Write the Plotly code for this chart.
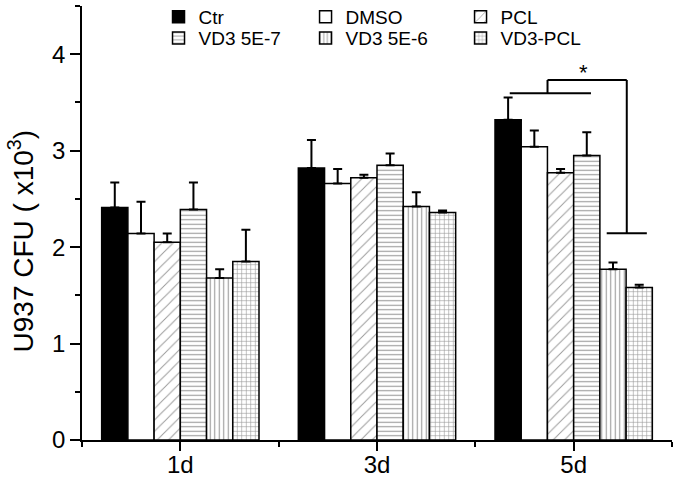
import plotly.graph_objects as go

# ---- data ----
days = ["1d", "3d", "5d"]
day_pos = [0, 1, 2]
series_names = ["Ctr", "DMSO", "PCL", "VD3 5E-7", "VD3 5E-6", "VD3-PCL"]

ctr = [2.41, 2.82, 3.32]
ctr_err = [0.26, 0.29, 0.23]
dmso = [2.14, 2.66, 3.04]
dmso_err = [0.33, 0.15, 0.17]
pcl = [2.05, 2.72, 2.77]
pcl_err = [0.09, 0.03, 0.04]
vd3_5e7 = [2.39, 2.85, 2.95]
vd3_5e7_err = [0.28, 0.12, 0.24]
vd3_5e6 = [1.68, 2.42, 1.77]
vd3_5e6_err = [0.09, 0.15, 0.07]
vd3_pcl = [1.85, 2.36, 1.58]
vd3_pcl_err = [0.33, 0.02, 0.03]

values = [ctr, dmso, pcl, vd3_5e7, vd3_5e6, vd3_pcl]
errors = [ctr_err, dmso_err, pcl_err, vd3_5e7_err, vd3_5e6_err, vd3_pcl_err]

# significance bracket (data coordinates)
sig_low_x = [1.675, 2.088]
sig_low_y = 3.595
sig_mid_x = 1.867
sig_top_y = 3.733
sig_right_x = 2.27
sig_bottom_y = 2.144
sig_bottom_x = [2.168, 2.372]
star_x, star_y = 2.05, 3.81

FONT = "Arial, Liberation Sans, sans-serif"

styles = [
    dict(color="black", pattern=None),
    dict(color="white", pattern=None),
    dict(color="white", pattern=dict(shape="/", fgcolor="#333", bgcolor="white", size=8, solidity=0.12)),
    dict(color="white", pattern=dict(shape="-", fgcolor="#333", bgcolor="white", size=4.5, solidity=0.25)),
    dict(color="white", pattern=dict(shape="|", fgcolor="#333", bgcolor="white", size=4.5, solidity=0.25)),
    dict(color="white", pattern=dict(shape="+", fgcolor="#333", bgcolor="white", size=4.5, solidity=0.25)),
]

# legend placement (paper coords): 2 rows x 3 columns
leg_cols = [0.1297, 0.3789, 0.6416]
leg_rows = [0.9746, 0.926]
legend_ids = ["legend", "legend2", "legend3", "legend4", "legend5", "legend6"]

fig = go.Figure()
for i, (name, vals, errs, st) in enumerate(zip(series_names, values, errors, styles)):
    marker = dict(color=st["color"], line=dict(color="black", width=1.5))
    if st["pattern"] is not None:
        marker["pattern"] = st["pattern"]
    fig.add_trace(go.Bar(
        x=day_pos, y=vals, name=name, marker=marker, legend=legend_ids[i],
        showlegend=True,
        error_y=dict(type="data", symmetric=False, array=errs,
                     arrayminus=[0] * len(errs), color="black",
                     thickness=2, width=4.5),
    ))

line = dict(color="black", width=2)
shapes = [
    dict(type="line", xref="x", yref="y", x0=sig_low_x[0], x1=sig_low_x[1], y0=sig_low_y, y1=sig_low_y, line=line),
    dict(type="line", xref="x", yref="y", x0=sig_mid_x, x1=sig_mid_x, y0=sig_low_y, y1=sig_top_y, line=line),
    dict(type="line", xref="x", yref="y", x0=sig_mid_x, x1=sig_right_x, y0=sig_top_y, y1=sig_top_y, line=line),
    dict(type="line", xref="x", yref="y", x0=sig_right_x, x1=sig_right_x, y0=sig_top_y, y1=sig_bottom_y, line=line),
    dict(type="line", xref="x", yref="y", x0=sig_bottom_x[0], x1=sig_bottom_x[1], y0=sig_bottom_y, y1=sig_bottom_y, line=line),
]

layout_legends = {}
for i, lid in enumerate(legend_ids):
    layout_legends[lid] = dict(
        x=leg_cols[i % 3], y=leg_rows[i // 3], xanchor="left", yanchor="middle",
        orientation="h", font=dict(size=19, family=FONT), bgcolor="rgba(0,0,0,0)",
        itemwidth=30, visible=True,
    )

fig.update_layout(
    width=677, height=482,
    margin=dict(l=82, r=5, t=6, b=42, autoexpand=False),
    paper_bgcolor="white", plot_bgcolor="white",
    font=dict(family=FONT, color="black"),
    barmode="group", bargap=0.2, bargroupgap=0,
    showlegend=True,
    shapes=shapes,
    annotations=[
        dict(x=star_x, y=star_y, xref="x", yref="y", text="*",
             showarrow=False, font=dict(size=22, family=FONT)),
        dict(x=-0.103, y=0.458, xref="paper", yref="paper", text="U937 CFU ( x10<sup>3</sup>)",
             textangle=-90, showarrow=False, xanchor="center", yanchor="middle",
             font=dict(size=28, family=FONT)),
    ],
    **layout_legends,
)

fig.update_xaxes(
    range=[-0.5, 2.5], tickvals=day_pos, ticktext=days, automargin=False,
    showline=True, linecolor="black", linewidth=1.5,
    ticks="outside", ticklen=9, tickwidth=1.5, tickcolor="black",
    minor=dict(dtick=0.5, tick0=0, ticks="outside", ticklen=5, tickwidth=1.5, tickcolor="black"),
    showgrid=False, zeroline=False, tickfont=dict(size=24, family=FONT),
    ticklabelstandoff=-7,
)
fig.update_yaxes(
    range=[0, 4.5], dtick=1, tick0=0, automargin=False,
    showline=True, linecolor="black", linewidth=1.5,
    ticks="outside", ticklen=10, tickwidth=1.5, tickcolor="black",
    minor=dict(dtick=0.5, tick0=0, ticks="outside", ticklen=5, tickwidth=1.5, tickcolor="black"),
    showgrid=False, zeroline=False, tickfont=dict(size=24, family=FONT),
)

fig.write_html("out.html", config={"displayModeBar": False},
               post_script="document.body.style.margin='0';")
